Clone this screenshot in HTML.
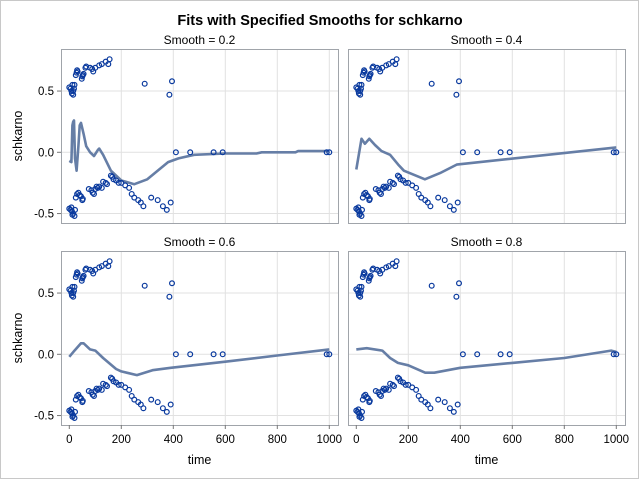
<!DOCTYPE html>
<html><head><meta charset="utf-8"><style>
body{margin:0;background:#fff}
svg{display:block;font-family:"Liberation Sans",sans-serif}
</style></head><body>
<svg id="c" width="640" height="480" xmlns="http://www.w3.org/2000/svg">
<rect x="0.5" y="0.5" width="638" height="478" fill="#fff" stroke="#c8c8c8"/>
<text x="320" y="25" text-anchor="middle" font-size="14.5" font-weight="bold" fill="#000">Fits with Specified Smooths for schkarno</text>
</svg>
<script>
const pTime=[0,5,8,10,12,15,18,20,15,25,28,30,32,48,50,55,52,62,65,80,88,92,100,115,125,140,150,155,290,385,395,
0,5,8,10,12,15,20,22,25,30,35,40,45,50,52,75,85,90,95,100,105,110,115,125,130,140,145,160,165,170,180,190,200,215,230,240,250,265,275,285,315,340,360,375,390,
410,465,555,590,990,1000];
const pVal=[0.53,0.52,0.5,0.48,0.55,0.5,0.52,0.55,0.47,0.63,0.65,0.67,0.66,0.6,0.62,0.64,0.63,0.69,0.7,0.69,0.68,0.66,0.69,0.71,0.72,0.74,0.72,0.76,0.56,0.47,0.58,
-0.46,-0.47,-0.45,-0.48,-0.51,-0.5,-0.52,-0.47,-0.37,-0.34,-0.33,-0.35,-0.36,-0.39,-0.38,-0.3,-0.31,-0.33,-0.34,-0.3,-0.28,-0.29,-0.28,-0.29,-0.24,-0.25,-0.26,-0.19,-0.2,-0.22,-0.23,-0.25,-0.25,-0.27,-0.29,-0.34,-0.37,-0.39,-0.41,-0.44,-0.37,-0.39,-0.44,-0.47,-0.41,
0,0,0,0,0,0];
const smoothLabels=["Smooth = 0.2","Smooth = 0.4","Smooth = 0.6","Smooth = 0.8"];
const fitT02=[0,8,12,15,18,22,28,35,40,45,55,65,80,95,110,115,130,160,200,250,300,380,420,480,600,720,740,870,880,1000];
const fitV02=[-0.07,-0.08,0.22,0.25,0.26,-0.05,-0.15,0.05,0.22,0.24,0.15,0.05,0,-0.03,0.02,0.03,-0.02,-0.15,-0.23,-0.26,-0.22,-0.08,-0.05,-0.02,-0.01,-0.01,0,0,0.01,0.01];
const fitT04=[0,20,33,50,72,97,130,161,183,264,322,386,1000];
const fitV04=[-0.14,0.11,0.07,0.11,0.06,0.01,-0.02,-0.1,-0.15,-0.22,-0.17,-0.1,0.04];
const fitT06=[0,20,45,55,80,100,130,180,200,260,320,390,600,800,1000];
const fitV06=[-0.02,0.03,0.09,0.09,0.04,0.03,-0.03,-0.12,-0.14,-0.17,-0.13,-0.11,-0.06,-0.01,0.04];
const fitT08=[0,40,100,130,160,200,265,300,400,600,800,980,1000];
const fitV08=[0.04,0.05,0.03,-0.03,-0.07,-0.09,-0.15,-0.15,-0.11,-0.07,-0.03,0.03,0.02];
const xTicks=[0,200,400,600,800,1000];
const yTicks=[-0.5,0,0.5];
const yTickLabels=["-0.5","0.0","0.5"];
const fitsT=[fitT02,fitT04,fitT06,fitT08];
const fitsV=[fitV02,fitV04,fitV06,fitV08];

const NS="http://www.w3.org/2000/svg";
const svg=document.getElementById('c');
function mk(tag,attrs,parent){const e=document.createElementNS(NS,tag);for(const k in attrs)e.setAttribute(k,attrs[k]);(parent||svg).appendChild(e);return e;}
const panels=[{fx:61,fy:49,col:0,row:0},{fx:348,fy:49,col:1,row:0},{fx:61,fy:251,col:0,row:1},{fx:348,fy:251,col:1,row:1}];
const FW=277,FH=174;
panels.forEach((p,i)=>{
  const g=mk('g',{});
  
  
  const x0=p.fx+8.3, xs=(FW-17)/1000;
  const y0=p.fy+103.3, ys=122.5;
  const X=t=>x0+t*xs, Y=v=>y0-v*ys;
  const st=mk('text',{x:p.fx+FW/2,y:p.fy-5,'text-anchor':'middle','font-size':12,fill:'#000'},g);
  st.textContent=smoothLabels[i];
  
  
  xTicks.forEach(t=>{if(t>0){const l=mk('line',{x1:X(t),x2:X(t),y1:p.fy,y2:p.fy+FH,stroke:'#e1e1e1'},g);
    }});
  yTicks.forEach(v=>{const l=mk('line',{x1:p.fx,x2:p.fx+FW,y1:Y(v),y2:Y(v),stroke:'#e1e1e1'},g);
    });
  const d=fitsT[i].map((t,k)=>(k?'L':'M')+X(t).toFixed(1)+','+Y(fitsV[i][k]).toFixed(1)).join(' ');
  const ln=mk('path',{d:d,fill:'none',stroke:'#667ea6',"stroke-width":2.6,"stroke-linejoin":'round'},g);
  
  
  pTime.forEach((t,k)=>{const c=mk('circle',{cx:X(t),cy:Y(pVal[k]),r:2.4,fill:'none',stroke:'#0a3a9e',"stroke-width":1.2},g);
    });
  const fr=mk('rect',{x:p.fx+0.5,y:p.fy+0.5,width:FW,height:FH,fill:'none',stroke:'#a0a4aa'},g);
  
  
  if(p.col===0){
    yTicks.forEach((v,k)=>{mk('line',{x1:p.fx-4,x2:p.fx,y1:Y(v),y2:Y(v),stroke:'#777'},g);
      const tl=mk('text',{x:p.fx-7,y:Y(v)+4,'text-anchor':'end','font-size':11.5,fill:'#000'},g);
      tl.textContent=yTickLabels[k];
      });
    const yl=mk('text',{x:0,y:0,transform:`translate(22,${p.fy+FH/2}) rotate(-90)`,'text-anchor':'middle','font-size':12.5,fill:'#000'},g);
    yl.textContent='schkarno';
    
  }
  if(p.row===1){
    xTicks.forEach(t=>{mk('line',{x1:X(t),x2:X(t),y1:p.fy+FH,y2:p.fy+FH+4,stroke:'#777'},g);
      const tl=mk('text',{x:X(t),y:p.fy+FH+18,'text-anchor':'middle','font-size':11.5,fill:'#000'},g);
      tl.textContent=t;
      });
    const xl=mk('text',{x:p.fx+FW/2,y:464,'text-anchor':'middle','font-size':12.5,fill:'#000'},g);
    xl.textContent='time';
    
  }
});
</script>
</body></html>
